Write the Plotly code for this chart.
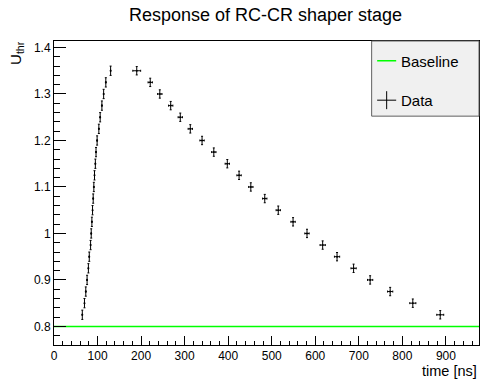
import plotly.graph_objects as go

# ---- data ----
rise_t = [65, 70, 73, 76, 79, 81, 84, 85.5, 87, 88.5, 90, 91.5, 93, 95, 96.5, 99, 103, 106, 110, 114, 119, 130]
rise_u = [0.825, 0.85, 0.875, 0.9, 0.925, 0.95, 0.975, 1.0, 1.025, 1.05, 1.075, 1.1,
          1.125, 1.15, 1.175, 1.2, 1.225, 1.25, 1.275, 1.3, 1.325, 1.35]
rise_terr = [0] * 22
rise_uerr = [0.01] * 22

fall_t = [190, 221, 243, 268, 290, 313, 340, 367, 398, 425, 452, 484, 515, 549, 581, 617, 650, 688, 726, 772, 824, 887]
fall_u = [1.35, 1.325, 1.3, 1.275, 1.25, 1.225, 1.2, 1.175, 1.15, 1.125, 1.1, 1.075,
          1.05, 1.025, 1.0, 0.975, 0.95, 0.925, 0.9, 0.875, 0.85, 0.825]
fall_terr = [9, 5, 5, 5, 5, 5, 5, 5, 5, 5, 5, 5, 5, 5, 5, 6, 6, 6, 6, 6, 7, 8]
fall_uerr = [0.009] * 22

baseline_t = [0, 976]
baseline_u = [0.8, 0.8]

x_range = [0, 976]
y_range = [0.76, 1.414]

title = "Response of RC-CR shaper stage"
x_title = "time [ns]"
y_title = "U<sub>thr</sub>"
legend_labels = ["Baseline", "Data"]

FONT = "Liberation Sans, Arial, Helvetica, sans-serif"
GREEN = "#00ff00"

t = rise_t + fall_t
u = rise_u + fall_u
terr = rise_terr + fall_terr
uerr = rise_uerr + fall_uerr

fig = go.Figure()
fig.add_trace(go.Scatter(
    x=baseline_t, y=baseline_u, mode="lines", name=legend_labels[0],
    line=dict(color=GREEN, width=1.5), showlegend=False, hoverinfo="skip"))
fig.add_trace(go.Scatter(
    x=t, y=u, mode="markers", name=legend_labels[1],
    marker=dict(color="black", size=2),
    error_x=dict(type="data", array=terr, color="black", thickness=1, width=1),
    error_y=dict(type="data", array=uerr, color="black", thickness=1, width=1),
    showlegend=False))

# frame geometry in px (for manual legend placement)
L, R, T, B = 54.3, 478.7, 40.7, 345.3
W, H = R - L, B - T
def px(xp):
    return (xp - L) / W
def py(yp):
    return (B - yp) / H

shapes = [
    dict(type="rect", xref="paper", yref="paper", x0=px(371.5), x1=1.0, y0=py(116), y1=1.0,
         fillcolor="#f0f0f0", line=dict(color="#606060", width=1), layer="above"),
    dict(type="line", xref="paper", yref="paper", x0=px(377), x1=px(396), y0=py(60.5), y1=py(60.5),
         line=dict(color=GREEN, width=1.5), layer="above"),
    dict(type="line", xref="paper", yref="paper", x0=px(377), x1=px(396), y0=py(100), y1=py(100),
         line=dict(color="black", width=1), layer="above"),
    dict(type="line", xref="paper", yref="paper", x0=px(386.5), x1=px(386.5), y0=py(91), y1=py(109),
         line=dict(color="black", width=1), layer="above"),
]

annotations = [
    dict(text=legend_labels[0], xref="paper", yref="paper", x=px(399), y=py(61.5),
         xanchor="left", yanchor="middle", showarrow=False, font=dict(family=FONT, size=15, color="black")),
    dict(text=legend_labels[1], xref="paper", yref="paper", x=px(399), y=py(100.5),
         xanchor="left", yanchor="middle", showarrow=False, font=dict(family=FONT, size=15, color="black")),
    dict(text=x_title, xref="paper", yref="paper", x=1.0, y=py(371),
         xanchor="right", yanchor="middle", showarrow=False, font=dict(family=FONT, size=14.5, color="black")),
    dict(text=y_title, xref="paper", yref="paper", x=px(17), y=py(39),
         xanchor="center", yanchor="top", textangle=-90, showarrow=False,
         font=dict(family=FONT, size=15, color="black")),
    dict(text=title, xref="paper", yref="paper", x=px(266), y=py(14.5),
         xanchor="center", yanchor="middle", showarrow=False, font=dict(family=FONT, size=18, color="black")),
]

axis_common = dict(showgrid=False, zeroline=False, showline=True, linecolor="black", linewidth=1,
                   mirror=True, ticks="inside", tickcolor="black", tickwidth=1,
                   tickfont=dict(family=FONT, size=12, color="black"))

fig.update_layout(
    width=480, height=379,
    margin=dict(l=L, r=480 - R, t=T, b=379 - B),
    paper_bgcolor="white", plot_bgcolor="white",
    showlegend=False,
    shapes=shapes, annotations=annotations,
    xaxis=dict(range=x_range, tickmode="linear", tick0=0, dtick=100, ticklen=9,
               minor=dict(dtick=20, ticks="inside", ticklen=4, tickcolor="black"),
               **axis_common),
    yaxis=dict(range=y_range, tickmode="array", tickvals=[0.8, 0.9, 1.0, 1.1, 1.2, 1.3, 1.4],
               ticktext=["0.8", "0.9", "1", "1.1", "1.2", "1.3", "1.4"], ticklen=12,
               minor=dict(tickmode="linear", tick0=0.8, dtick=0.02, ticks="inside", ticklen=6, tickcolor="black"),
               **axis_common),
)

fig.write_html("out.html")
